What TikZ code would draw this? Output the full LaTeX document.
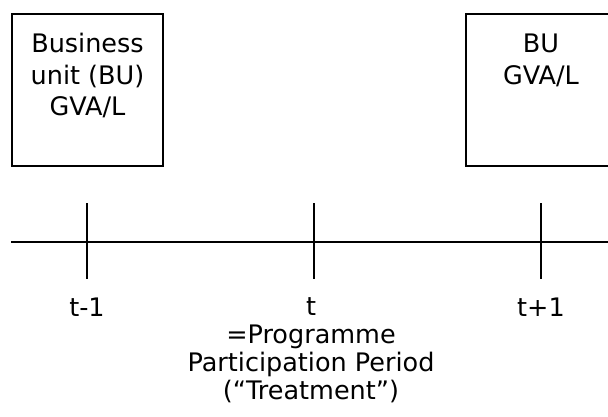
\documentclass[tikz,border=0pt]{standalone}
\usepackage{fontspec}
\setmainfont{DejaVu Sans}
\begin{document}
\begin{tikzpicture}[x=1pt,y=-1pt,
  unitbox/.style={draw=black, line width=2pt, minimum width=151pt, minimum height=152pt, inner sep=0pt},
  lbltext/.style={font=\fontsize{25.5}{31.5}\selectfont, align=center, inner sep=0pt},
  axisline/.style={line width=1.7pt},
]
\clip (0,0) rectangle (608,416);
\fill[white] (0,0) rectangle (608,416);
% boxes
\node[unitbox] (bu1) at (87.5,90) {};
\node[unitbox] (bu2) at (541,90) {};
\node[lbltext, anchor=north] (bu1t) at (87.5,33) {Business\\unit (BU)\\GVA/L};
\node[lbltext, anchor=north] (bu2t) at (541,34) {BU\\GVA/L};
% timeline
\coordinate (axL) at (11,242);
\coordinate (axR) at (612,242);
\draw[axisline] (axL) -- (axR);
\coordinate (k0a) at (87,203);  \coordinate (k0b) at (87,279);
\coordinate (k1a) at (314,203); \coordinate (k1b) at (314,279);
\coordinate (k2a) at (541,203); \coordinate (k2b) at (541,279);
\draw[axisline] (k0a) -- (k0b);
\draw[axisline] (k1a) -- (k1b);
\draw[axisline] (k2a) -- (k2b);
% labels
\node[lbltext, anchor=base] (l0) at (87,316) {t-1};
\node[lbltext, anchor=base] (l2) at (541,316) {t+1};
\node[lbltext, anchor=north, font=\fontsize{25.5}{28}\selectfont] (l1) at (311,297) {t\\=Programme\\Participation Period\\(“Treatment”)};
\end{tikzpicture}
\end{document}
